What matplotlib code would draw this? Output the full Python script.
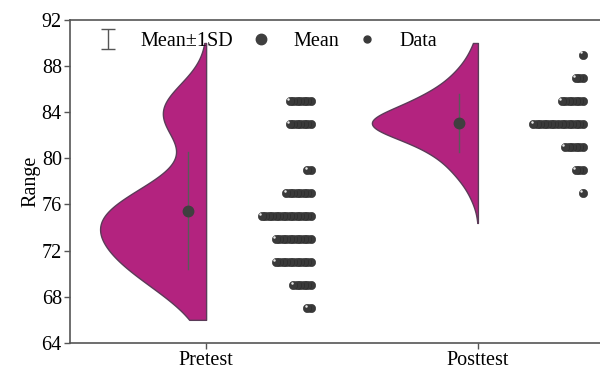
import numpy as np
import matplotlib
matplotlib.use('Agg')
import matplotlib.pyplot as plt

plt.rcParams['font.family'] = ['Liberation Serif', 'DejaVu Serif']

# Datos (valor: número de puntos)
grupos = ['Pretest', 'Posttest']
pre_valores = [85, 83, 79, 77, 75, 73, 71, 69, 67]
pre_cuentas = [7, 7, 2, 8, 15, 11, 11, 6, 2]
post_valores = [89, 87, 85, 83, 81, 79, 77]
post_cuentas = [1, 3, 7, 15, 6, 3, 1]
# límites de la violín (corte) por grupo
pre_lim = [66, 90]
post_lim = [74.4, 90]

color_violin = '#B3237F'
color_borde = '#5b3b58'
color_punto = '#3f3f3f'


def kde(datos, grid):
    datos = np.asarray(datos, dtype=float)
    bw = datos.std(ddof=1) * len(datos) ** (-1 / 5)
    z = (grid[:, None] - datos[None, :]) / bw
    return np.exp(-0.5 * z ** 2).sum(axis=1)


fig = plt.figure(figsize=(6, 3.76), dpi=100)
ax = fig.add_axes([0.117, 0.088, 0.906, 0.859])

ancho = 0.39
paso = 0.0129
desp = 0.385

for i, (vals, cnts, lim) in enumerate([(pre_valores, pre_cuentas, pre_lim),
                                       (post_valores, post_cuentas, post_lim)]):
    datos = np.repeat(vals, cnts)
    grid = np.linspace(lim[0], lim[1], 300)
    d = kde(datos, grid)
    d = d / d.max() * ancho
    ax.fill_betweenx(grid, i - d, i, color=color_violin, edgecolor=color_borde,
                     linewidth=1.0, zorder=2)

    media = datos.mean()
    sd = datos.std(ddof=1)
    xm = i - 0.068
    ax.plot([xm, xm], [media - sd, media + sd], color='#5a5a5a', lw=1.0, zorder=3)
    ax.plot(xm, media, 'o', color=color_punto, ms=7.5, zorder=4)

    # puntos apilados de derecha a izquierda
    for v, n in zip(vals, cnts):
        for k in range(n):
            x = i + desp - k * paso
            ax.plot(x, v, 'o', color='#3a3a3a', ms=6.0, mec='#2a2a2a', mew=0.4, zorder=5 + k * 0.01)
            ax.plot(x - 0.006, v + 0.18, 'o', color='#e8e8e8', ms=1.8, mew=0, zorder=5 + k * 0.01 + 0.005)

ax.set_xlim(-0.5, 1.5)
ax.set_ylim(64, 92)
ax.set_yticks(np.arange(64, 93, 4))
ax.set_xticks([0, 1])
ax.set_xticklabels(grupos)
ax.set_ylabel('Range', fontsize=14.5, labelpad=1)
ax.tick_params(labelsize=14.5, direction='out', length=4, color='#555555', width=1, pad=2)
for s in ax.spines.values():
    s.set_color('#555555')
    s.set_linewidth(1.2)

# leyenda
h1 = ax.errorbar([np.nan], [np.nan], yerr=[1], fmt='none', ecolor='#555555',
                 capsize=5, elinewidth=1, label='Mean±1SD')
h2, = ax.plot([], [], 'o', color=color_punto, ms=7.5, label='Mean')
h3, = ax.plot([], [], 'o', color='#3a3a3a', ms=5, label='Data')
ax.legend(handles=[h1, h2, h3], loc='upper left', bbox_to_anchor=(0.01, 1.02), ncol=3,
          frameon=False, fontsize=14.5, handletextpad=0.9, columnspacing=0.7,
          handlelength=1.4)

fig.savefig('out.png', dpi=100)
